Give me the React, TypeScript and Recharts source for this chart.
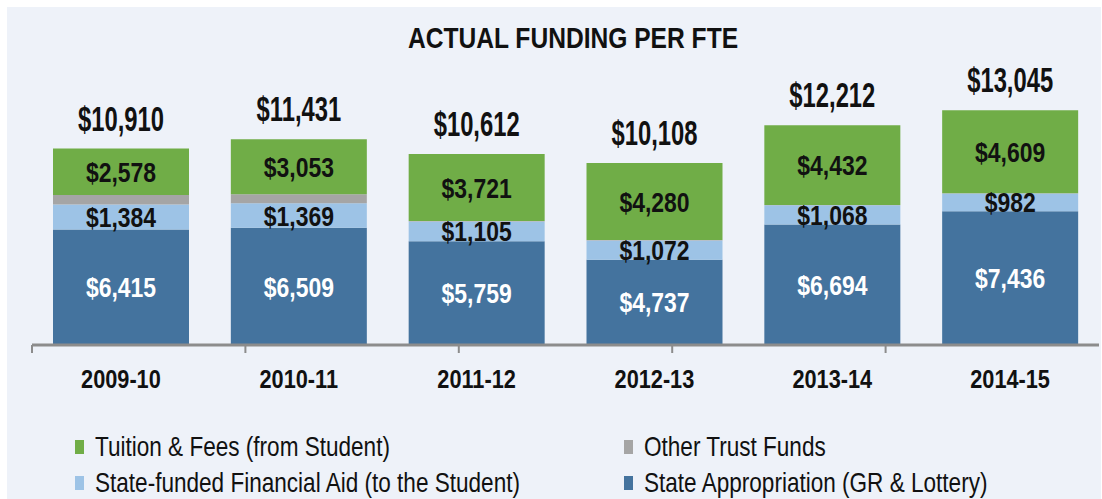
import React from 'react';
import { BarChart, Bar, XAxis, YAxis, LabelList } from 'recharts';

const categories = ['2009-10', '2010-11', '2011-12', '2012-13', '2013-14', '2014-15'];
const stateAppropriation = [6415, 6509, 5759, 4737, 6694, 7436];
const financialAid = [1384, 1369, 1105, 1072, 1068, 982];
const otherTrust = [533, 500, 27, 19, 18, 18];
const tuition = [2578, 3053, 3721, 4280, 4432, 4609];
const totals = [10910, 11431, 10612, 10108, 12212, 13045];
const edgeTicks = [0, 1, 2, 3, 4, 5, 6];

// Arial Narrow look-alike: Liberation Sans squeezed horizontally
const FONT = '"Liberation Sans", Arial, sans-serif';
const SQUEEZE = 0.82;

const series = [
  { key: 'state', name: 'State Appropriation (GR & Lottery)', color: '#44739e', label: '#ffffff' },
  { key: 'aid', name: 'State-funded Financial Aid (to the Student)', color: '#9dc3e6', label: '#111111' },
  { key: 'other', name: 'Other Trust Funds', color: '#a5a5a5', label: null },
  { key: 'tuition', name: 'Tuition & Fees (from Student)', color: '#70ad47', label: '#111111' },
];
const legendOrder = ['tuition', 'other', 'aid', 'state'];

const data = categories.map((c, i) => ({
  year: c,
  state: stateAppropriation[i],
  aid: financialAid[i],
  other: otherTrust[i],
  tuition: tuition[i],
  total: totals[i],
}));

const money = (v: any) => `$${Number(v).toLocaleString('en-US')}`;

const NarrowText = ({ x, y, size, fill, weight = 'bold', dy = 0, squeeze = SQUEEZE, children }: any) => (
  <text
    transform={`translate(${x},${y}) scale(${squeeze},1)`}
    dy={dy}
    textAnchor="middle"
    fontFamily={FONT}
    fontWeight={weight}
    fontSize={size}
    fill={fill}
  >
    {children}
  </text>
);

const centerLabel = (fill: string) => (p: any) => (
  <NarrowText x={p.x + p.width / 2} y={p.y + p.height / 2} dy="0.36em" size={28} fill={fill}>
    {money(p.value)}
  </NarrowText>
);

const totalLabel = (p: any) => (
  <NarrowText x={p.x + p.width / 2} y={p.y - 18} size={35} squeeze={0.68} fill="#111">
    {money(p.value)}
  </NarrowText>
);

const YearTick = ({ x, y, payload }: any) => (
  <NarrowText x={x} y={y + 31} size={26.5} fill="#111">
    {payload.value}
  </NarrowText>
);

const NoTick = () => <g />;

const narrowHtml: React.CSSProperties = {
  display: 'inline-block',
  transform: `scaleX(${SQUEEZE})`,
  transformOrigin: 'left center',
  whiteSpace: 'nowrap',
};

export default function App() {
  return (
    <div style={{ position: 'absolute', left: 0, top: 0, width: 1102, height: 499, background: '#fff' }}>
      <div style={{ position: 'absolute', left: 7, top: 7, width: 1094, height: 492, background: '#eef2f9' }} />
      <div style={{ position: 'absolute', left: 0, top: 0 }}>
        <BarChart width={1102} height={499} data={data} barSize={136} margin={{ top: 93, right: 3, left: 32, bottom: 94 }}>
          <text x={573} y={37} dy="0.36em" transform={`translate(${573 * (1 - SQUEEZE)},0) scale(${SQUEEZE},1)`}
            textAnchor="middle" fontFamily={FONT} fontWeight="bold" fontSize={30} fill="#111">
            ACTUAL FUNDING PER FTE
          </text>
          <XAxis
            xAxisId={0}
            type="number"
            domain={[0, 6]}
            ticks={edgeTicks}
            tick={<NoTick />}
            tickSize={8}
            height={10}
            axisLine={{ stroke: '#8c8c8c', strokeWidth: 3 }}
            tickLine={{ stroke: '#8c8c8c', strokeWidth: 2 }}
          />
          <XAxis
            xAxisId={1}
            dataKey="year"
            axisLine={false}
            tickLine={false}
            tickSize={0}
            tick={<YearTick />}
            height={50}
            interval={0}
          />
          <YAxis hide domain={[0, 14000]} />
          {series.map((s) => (
            <Bar key={s.key} xAxisId={1} dataKey={s.key} stackId="a" fill={s.color} name={s.name} isAnimationActive={false}>
              {s.label && <LabelList dataKey={s.key} content={centerLabel(s.label)} />}
              {s.key === 'tuition' && <LabelList dataKey="total" content={totalLabel} />}
            </Bar>
          ))}
        </BarChart>
      </div>
      {legendOrder.map((k, i) => {
        const s = series.find((d) => d.key === k)!;
        const col = i % 2;
        const row = Math.floor(i / 2);
        return (
          <div
            key={k}
            style={{
              position: 'absolute', left: col === 0 ? 75 : 624, top: 431 + row * 36, height: 32,
              display: 'flex', alignItems: 'center', fontFamily: FONT, fontSize: 27.5, color: '#111',
            }}
          >
            <span style={{ display: 'inline-block', width: 9, height: 14, background: s.color, marginRight: 11 }} />
            <span style={narrowHtml}>{s.name}</span>
          </div>
        );
      })}
    </div>
  );
}
